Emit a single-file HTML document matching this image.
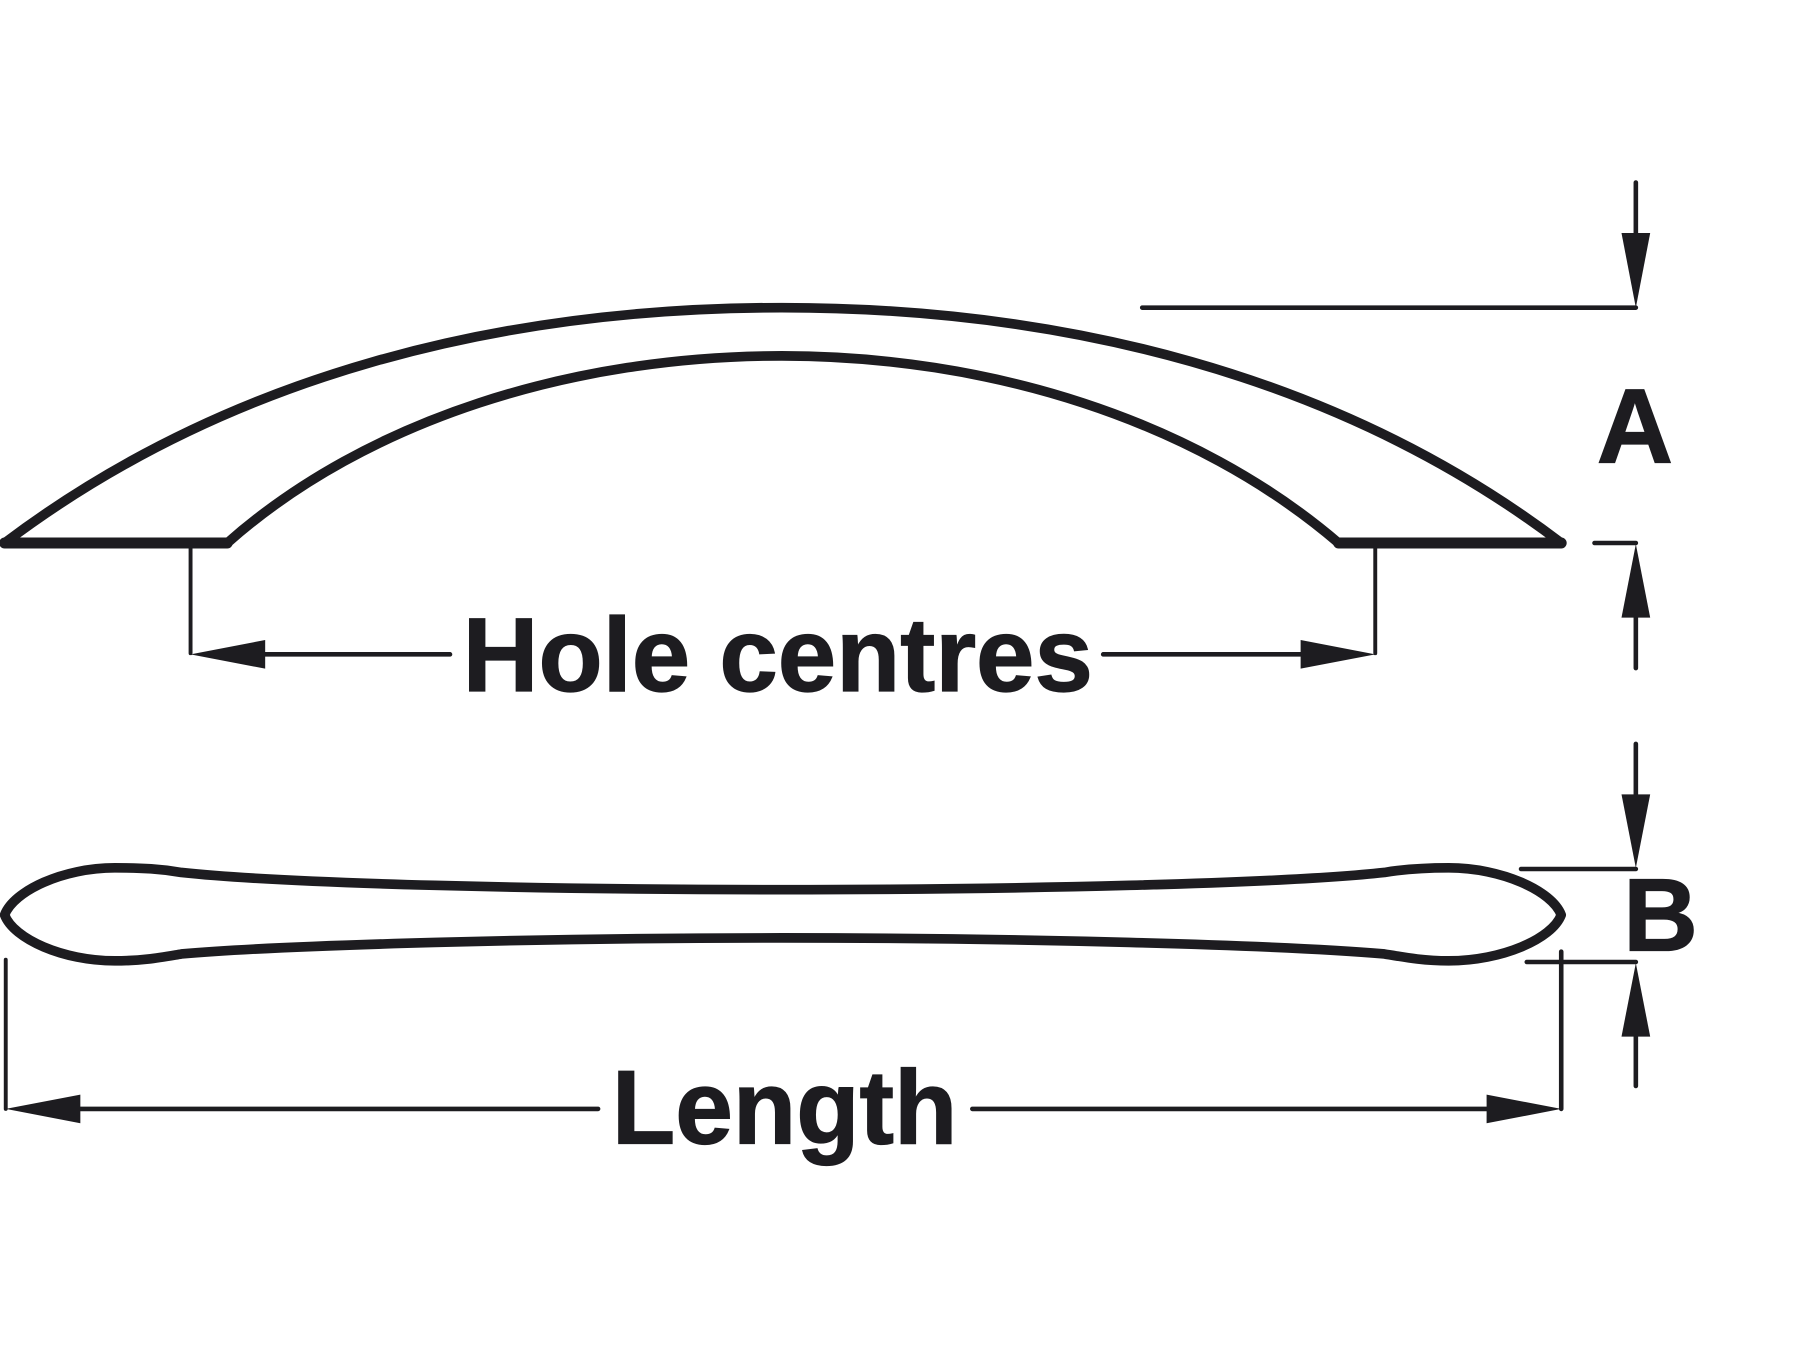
<!DOCTYPE html>
<html><head><meta charset="utf-8"><style>html,body{margin:0;padding:0;background:#fff}svg{display:block}text{font-family:"Liberation Sans",Arial,sans-serif;font-weight:bold;fill:#1d1c20;stroke:#1d1c20;stroke-width:1.1px}</style></head><body>
<svg width="1800" height="1350" viewBox="0 0 1568 1176" xmlns="http://www.w3.org/2000/svg">
<rect width="1568" height="1176" fill="#fff"/>
<g fill="none" stroke="#1d1c20" stroke-width="8.4" stroke-linejoin="round" stroke-linecap="round">
<path d="M4 473 C200 325 440 268 681 268 C922 268 1165 325 1360 473 M1166 473 C1040 365 860 310 681 310 C500 310 320 365 198 473"/>
<path stroke-width="9.5" d="M4 473H198M1166 473H1360"/>
<path stroke-width="8.4" d="M4 797 C12 776 55 756 100 756 C125 756 140 757 158 760 C250 770 480 775 681 775 C880 775 1115 770 1206 760 C1224 757 1240 756 1262 756 C1308 756 1352 776 1360 797 C1352 818 1308 837 1262 837 C1240 837 1224 834 1206 831 C1115 823 880 817 681 817 C480 817 250 823 158 831 C140 834 125 837 100 837 C55 837 12 818 4 797 Z"/>
</g>
<g fill="none" stroke="#1d1c20" stroke-width="4" stroke-linecap="round">
<path stroke-width="3.4" d="M166 477V569M1198 477V569M5 836V966"/>
<path d="M229 570H392M961 570H1135"/>
<path d="M995 268H1425M1425 159V205M1389 473H1425M1425 535V582"/>
<path d="M1325 757H1425M1425 648V692M1330 838H1425M1425 900V946"/>
<path d="M68 966H521M1360 829V966M847 966H1297"/>
</g>
<g fill="#1d1c20">
<path d="M166 570L231 557.500V582.500Z"/><path d="M1198 570L1133 557.500V582.500Z"/>
<path d="M1425 268L1412.500 203H1437.500Z"/><path d="M1425 474L1412.500 538H1437.500Z"/>
<path d="M1425 756L1412.500 692H1437.500Z"/><path d="M1425 839L1412.500 903H1437.500Z"/>
<path d="M5 966L70 953.500V978.500Z"/><path d="M1360 966L1295 953.500V978.500Z"/>
</g>
<text x="403" y="602" font-size="91" textLength="549" lengthAdjust="spacingAndGlyphs">Hole centres</text>
<text x="533" y="996" font-size="91" textLength="301" lengthAdjust="spacingAndGlyphs">Length</text>
<text x="1391" y="403" font-size="92">A</text>
<text x="1414" y="828" font-size="90">B</text>
</svg>
</body></html>
